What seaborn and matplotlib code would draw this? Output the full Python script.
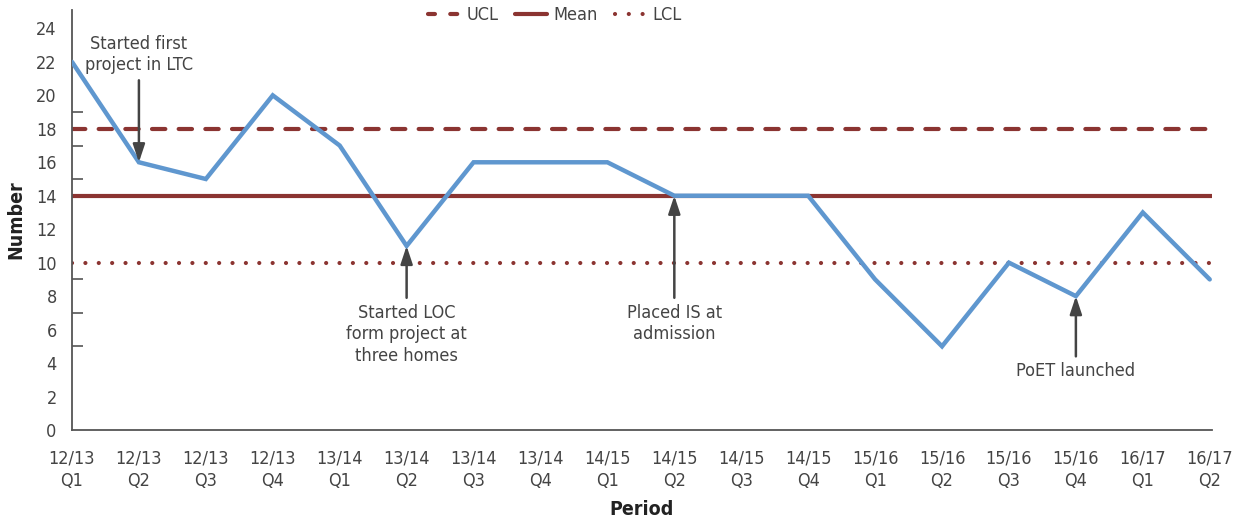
import numpy as np
import pandas as pd
import matplotlib
matplotlib.use("Agg")
import matplotlib.pyplot as plt
from matplotlib.lines import Line2D
import seaborn as sns

periods = ["12/13\nQ1", "12/13\nQ2", "12/13\nQ3", "12/13\nQ4",
           "13/14\nQ1", "13/14\nQ2", "13/14\nQ3", "13/14\nQ4",
           "14/15\nQ1", "14/15\nQ2", "14/15\nQ3", "14/15\nQ4",
           "15/16\nQ1", "15/16\nQ2", "15/16\nQ3", "15/16\nQ4",
           "16/17\nQ1", "16/17\nQ2"]
values = [22, 16, 15, 20, 17, 11, 16, 16, 16, 14, 14, 14, 9, 5, 10, 8, 13, 9]
ucl = 18
mean = 14
lcl = 10
yticks = list(range(0, 25, 2))
minor_marks = [5, 7, 9, 15, 17, 19]

annotations = [
    ("Started first\nproject in LTC", 1, 20.9, "above"),
    ("Started LOC\nform project at\nthree homes", 5, 7.9, "below"),
    ("Placed IS at\nadmission", 9, 7.9, "below"),
    ("PoET launched", 15, 4.4, "below"),
]

sns.set_theme(style="white")
plt.rcParams["font.family"] = ["DejaVu Sans"]
plt.rcParams["font.stretch"] = "condensed"

TXT = "#444444"
BLUE = "#5f97cf"
RED = "#8b3431"

fig = plt.figure(figsize=(12.39, 5.19), dpi=100)
ax = fig.add_axes([0.0581, 0.1715, 0.9199, 0.8092])

df = pd.DataFrame({"pos": np.arange(len(values)), "value": values})

ax.axhline(ucl, color=RED, lw=3, linestyle=(0, (3.2, 3.2)), dash_capstyle="round", zorder=2)
ax.axhline(mean, color=RED, lw=3, linestyle="-", zorder=2)
ax.axhline(lcl, color=RED, lw=3, linestyle=(0, (0.01, 3.2)), dash_capstyle="round", zorder=2)

sns.lineplot(data=df, x="pos", y="value", ax=ax, color=BLUE, lw=3.2, zorder=3)
ax.lines[-1].set_solid_joinstyle("miter")

ax.set_xlim(0, 17.03)
ax.set_ylim(0, 25.1)
ax.set_xticks(np.arange(len(periods)))
ax.set_xticklabels(periods, color=TXT, fontsize=13, linespacing=1.35)
ax.set_yticks(yticks)
ax.set_yticklabels([str(t) for t in yticks], color=TXT, fontsize=13)
ax.set_yticks(minor_marks, minor=True)
ax.tick_params(axis="both", which="major", direction="out", length=8, width=1.2, color="#555555", pad=3)
ax.tick_params(axis="x", which="major", pad=6)
ax.tick_params(axis="y", which="minor", direction="in", length=8, width=1.2, color="#555555", left=True)

for s in ["top", "right"]:
    ax.spines[s].set_visible(False)
for s in ["left", "bottom"]:
    ax.spines[s].set_color("#555555")
    ax.spines[s].set_linewidth(1.3)

ax.set_xlabel("Period", fontsize=14, fontweight="bold", color="#222222", labelpad=7)
ax.set_ylabel("Number", fontsize=14, fontweight="bold", color="#222222", labelpad=8)

for text, xi, ytail, where in annotations:
    ytgt = values[xi]
    ax.annotate("", xy=(xi, ytgt), xytext=(xi, ytail),
                arrowprops=dict(arrowstyle="-|>,head_length=0.9,head_width=0.3",
                                color="#444444", lw=1.8, shrinkA=0, shrinkB=0), zorder=4)
    if where == "above":
        ax.text(xi, ytail + 0.35, text, ha="center", va="bottom", fontsize=13,
                color=TXT, linespacing=1.25)
    else:
        ax.text(xi, ytail - 0.35, text, ha="center", va="top", fontsize=13,
                color=TXT, linespacing=1.25)

handles = [
    Line2D([], [], color=RED, lw=3, linestyle=(0, (1.67, 3.67)), dash_capstyle="round"),
    Line2D([], [], color=RED, lw=3, linestyle="-"),
    Line2D([], [], color=RED, lw=3, linestyle=(0, (0.01, 3.3)), dash_capstyle="round"),
]
fig.legend(handles, ["UCL", "Mean", "LCL"], loc="center", bbox_to_anchor=(0.448, 0.971),
           ncol=3, frameon=False, fontsize=13, handlelength=1.75, columnspacing=0.95,
           handletextpad=0.35, labelcolor=TXT)

fig.savefig("out.png", dpi=100)
